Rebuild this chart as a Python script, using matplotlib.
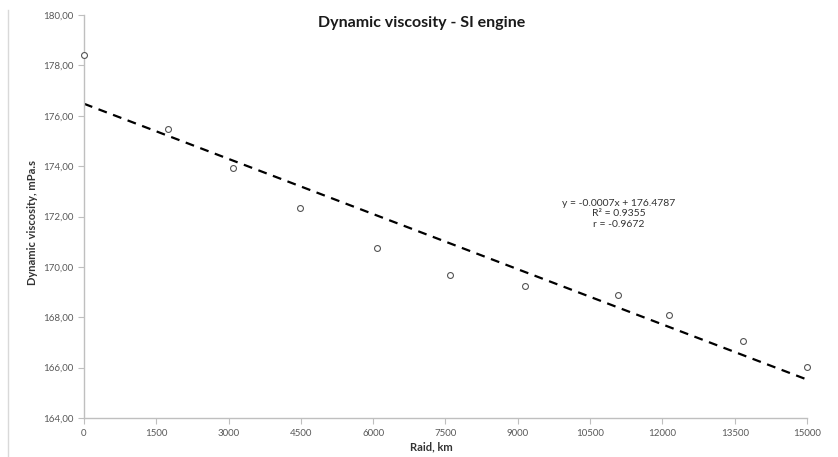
import matplotlib
matplotlib.use('Agg')
import matplotlib.pyplot as plt
import numpy as np
from matplotlib.lines import Line2D

plt.rcParams['font.family'] = ['Lato', 'DejaVu Sans']

raid_km = [0, 1740, 3090, 4480, 6080, 7590, 9150, 11080, 12140, 13670, 15000]
viscosity = [178.40, 175.48, 173.93, 172.34, 170.75, 169.68, 169.25, 168.89, 168.10, 167.06, 166.03]

x_ticks = [0, 1500, 3000, 4500, 6000, 7500, 9000, 10500, 12000, 13500, 15000]
y_ticks = [164, 166, 168, 170, 172, 174, 176, 178, 180]

fit_text = 'y = -0.0007x + 176.4787\nR² = 0.9355\nr = -0.9672'

x = np.array(raid_km, dtype=float)
y = np.array(viscosity)
slope, intercept = np.polyfit(x, y, 1)
x_line = np.array([x_ticks[0], x_ticks[-1]], dtype=float)

fig = plt.figure(figsize=(8.38, 4.57), dpi=100)
ax = fig.add_axes([0.1002, 0.0853, 0.8628, 0.8819])

ax.plot(x_line, slope * x_line + intercept, color='black', linestyle=(0, (4, 3)), linewidth=1.6, zorder=2)
ax.scatter(x, y, s=18, facecolors='white', edgecolors='#555555', linewidths=0.8, zorder=3, clip_on=False)

ax.set_xlim(0, 15000)
ax.set_ylim(164, 180)
ax.set_xticks(x_ticks)
ax.set_yticks(y_ticks)
ax.set_yticklabels(['{:.2f}'.format(v).replace('.', ',') for v in y_ticks])

for side in ['top', 'right']:
    ax.spines[side].set_visible(False)
for side in ['left', 'bottom']:
    ax.spines[side].set_color('#bfbfbf')
    ax.spines[side].set_linewidth(1.0)
ax.tick_params(axis='both', colors='#bfbfbf', labelcolor='#595959', labelsize=7, length=4, direction='out')
ax.tick_params(axis='x', pad=4)

ax.set_xlabel('Raid, km', fontsize=8, fontweight='bold', color='#333333')
ax.xaxis.set_label_coords((431 - 84) / 723, -(447 - 418) / 403)
ax.xaxis.label.set_va('center')
ax.set_ylabel('Dynamic viscosity, mPa.s', fontsize=8, fontweight='bold', color='#333333')
ax.yaxis.set_label_coords(-(84 - 33) / 723, (418 - 222) / 403)
ax.yaxis.label.set_va('center')

fig.text(422 / 838, 1 - 23 / 457, 'Dynamic viscosity - SI engine', ha='center', va='center',
         fontsize=11.5, fontweight='bold', color='#1a1a1a')

ax.text(11100, 172.1, fit_text, ha='center', va='center', fontsize=7.5, color='#333333', linespacing=1.2)

# thin frame line at the left edge of the chart area
fig.add_artist(Line2D([8 / 838, 8 / 838], [0, 1 - 10 / 457], transform=fig.transFigure,
                      color='#d9d9d9', linewidth=1.0))

fig.savefig('out.png', dpi=100, facecolor='white')
